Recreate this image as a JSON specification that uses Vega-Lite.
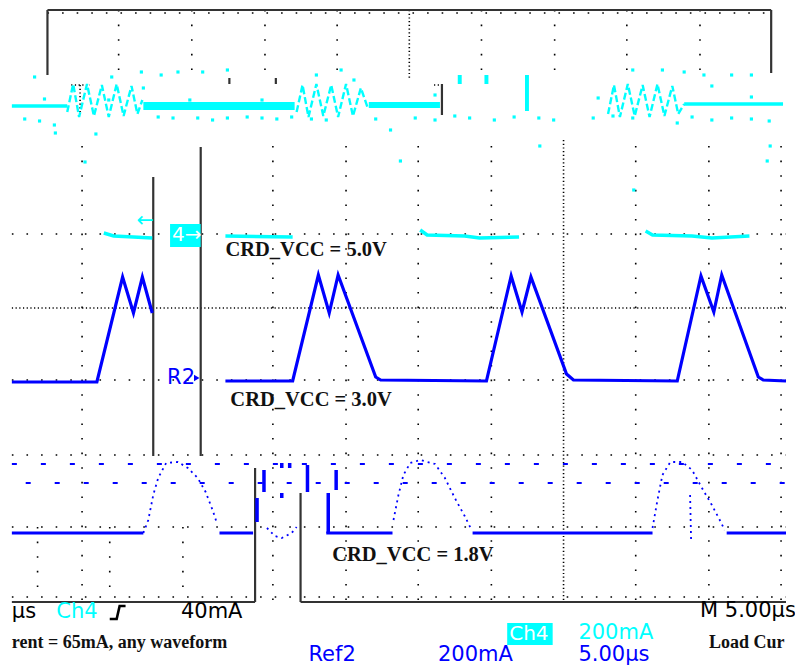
{
  "$schema": "https://vega.github.io/schema/vega-lite/v6.json",
  "width": 795,
  "height": 669,
  "padding": 0,
  "autosize": {"type": "fit", "contains": "padding"},
  "background": "#ffffff",
  "config": {"view": {"stroke": null}},
  "datasets": {
    "gridSparse": [
      {"x": 120, "y": 10, "x2": 120, "y2": 80}, {"x": 194, "y": 10, "x2": 194, "y2": 80},
      {"x": 268, "y": 10, "x2": 268, "y2": 80}, {"x": 341, "y": 10, "x2": 341, "y2": 80},
      {"x": 487, "y": 10, "x2": 487, "y2": 80}, {"x": 561, "y": 10, "x2": 561, "y2": 80},
      {"x": 634, "y": 10, "x2": 634, "y2": 80}, {"x": 708, "y": 10, "x2": 708, "y2": 80},
      {"x": 48, "y": 13, "x2": 780, "y2": 13},
      {"x": 83, "y": 146, "x2": 83, "y2": 600}, {"x": 276, "y": 146, "x2": 276, "y2": 600},
      {"x": 350, "y": 146, "x2": 350, "y2": 600}, {"x": 423, "y": 146, "x2": 423, "y2": 600},
      {"x": 497, "y": 146, "x2": 497, "y2": 600}, {"x": 643, "y": 146, "x2": 643, "y2": 600},
      {"x": 717, "y": 146, "x2": 717, "y2": 600}, {"x": 790, "y": 146, "x2": 790, "y2": 600},
      {"x": 38, "y": 527, "x2": 38, "y2": 600}, {"x": 111, "y": 527, "x2": 111, "y2": 600},
      {"x": 185, "y": 527, "x2": 185, "y2": 600},
      {"x": 12, "y": 234, "x2": 795, "y2": 234}, {"x": 12, "y": 380, "x2": 795, "y2": 380},
      {"x": 12, "y": 455, "x2": 795, "y2": 455}, {"x": 12, "y": 527, "x2": 795, "y2": 527},
      {"x": 12, "y": 597, "x2": 795, "y2": 597}
    ],
    "gridDense": [
      {"x": 570, "y": 140, "x2": 570, "y2": 600},
      {"x": 12, "y": 308, "x2": 795, "y2": 308},
      {"x": 414, "y": 10, "x2": 414, "y2": 80},
      {"x": 81, "y": 85, "x2": 81, "y2": 113},
      {"x": 72, "y": 85, "x2": 91, "y2": 85},
      {"x": 439, "y": 85, "x2": 447, "y2": 85}
    ],
    "frame": [
      {"x": 48, "y": 75, "x2": 48, "y2": 10}, {"x": 48, "y": 10, "x2": 780, "y2": 10},
      {"x": 780, "y": 10, "x2": 780, "y2": 73}, {"x": 447, "y": 84, "x2": 447, "y2": 115},
      {"x": 232, "y": 78, "x2": 232, "y2": 84}, {"x": 279, "y": 78, "x2": 279, "y2": 84},
      {"x": 155, "y": 177, "x2": 155, "y2": 456}, {"x": 203, "y": 147, "x2": 203, "y2": 456},
      {"x": 258, "y": 468, "x2": 258, "y2": 602}, {"x": 12, "y": 602, "x2": 258, "y2": 602},
      {"x": 304, "y": 493, "x2": 304, "y2": 602}, {"x": 304, "y": 602, "x2": 795, "y2": 602}
    ],
    "trigger": [
      {"i": 0, "x": 111, "y": 619}, {"i": 1, "x": 118, "y": 619},
      {"i": 2, "x": 121, "y": 606}, {"i": 3, "x": 127, "y": 606}
    ],
    "cyanRect": [
      {"x": 145, "x2": 298, "y": 102, "y2": 110},
      {"x": 373, "x2": 445, "y": 102, "y2": 108},
      {"x": 463, "x2": 467, "y": 75, "y2": 84},
      {"x": 490, "x2": 494, "y": 75, "y2": 84},
      {"x": 531, "x2": 535, "y": 75, "y2": 111}
    ],
    "cyanFlat": [
      {"s": "t1", "i": 0, "x": 12, "y": 106}, {"s": "t1", "i": 1, "x": 68, "y": 106},
      {"s": "t5", "i": 0, "x": 692, "y": 104}, {"s": "t5", "i": 1, "x": 792, "y": 104},
      {"s": "m1", "i": 0, "x": 105, "y": 233}, {"s": "m1", "i": 1, "x": 115, "y": 236},
      {"s": "m1", "i": 2, "x": 135, "y": 237}, {"s": "m1", "i": 3, "x": 154, "y": 238},
      {"s": "m2", "i": 0, "x": 228, "y": 236}, {"s": "m2", "i": 1, "x": 296, "y": 237},
      {"s": "m3", "i": 0, "x": 425, "y": 230}, {"s": "m3", "i": 1, "x": 432, "y": 235},
      {"s": "m3", "i": 2, "x": 470, "y": 236}, {"s": "m3", "i": 3, "x": 485, "y": 238},
      {"s": "m3", "i": 4, "x": 525, "y": 237},
      {"s": "m4", "i": 0, "x": 653, "y": 231}, {"s": "m4", "i": 1, "x": 660, "y": 235},
      {"s": "m4", "i": 2, "x": 700, "y": 236}, {"s": "m4", "i": 3, "x": 720, "y": 238},
      {"s": "m4", "i": 4, "x": 758, "y": 236}
    ],
    "cyanRing": [
      {"s": "t2", "i": 0, "x": 68, "y": 112}, {"s": "t2", "i": 1, "x": 74, "y": 84},
      {"s": "t2", "i": 2, "x": 80, "y": 117}, {"s": "t2", "i": 3, "x": 88, "y": 84},
      {"s": "t2", "i": 4, "x": 95, "y": 116}, {"s": "t2", "i": 5, "x": 103, "y": 85},
      {"s": "t2", "i": 6, "x": 110, "y": 117}, {"s": "t2", "i": 7, "x": 118, "y": 84},
      {"s": "t2", "i": 8, "x": 125, "y": 116}, {"s": "t2", "i": 9, "x": 133, "y": 86},
      {"s": "t2", "i": 10, "x": 139, "y": 114}, {"s": "t2", "i": 11, "x": 144, "y": 100},
      {"s": "t3", "i": 0, "x": 300, "y": 112}, {"s": "t3", "i": 1, "x": 306, "y": 85},
      {"s": "t3", "i": 2, "x": 312, "y": 117}, {"s": "t3", "i": 3, "x": 320, "y": 84},
      {"s": "t3", "i": 4, "x": 327, "y": 116}, {"s": "t3", "i": 5, "x": 335, "y": 85},
      {"s": "t3", "i": 6, "x": 342, "y": 117}, {"s": "t3", "i": 7, "x": 350, "y": 84},
      {"s": "t3", "i": 8, "x": 357, "y": 116}, {"s": "t3", "i": 9, "x": 365, "y": 88},
      {"s": "t3", "i": 10, "x": 372, "y": 108},
      {"s": "t4", "i": 0, "x": 615, "y": 114}, {"s": "t4", "i": 1, "x": 621, "y": 85},
      {"s": "t4", "i": 2, "x": 627, "y": 117}, {"s": "t4", "i": 3, "x": 635, "y": 84},
      {"s": "t4", "i": 4, "x": 642, "y": 116}, {"s": "t4", "i": 5, "x": 650, "y": 85},
      {"s": "t4", "i": 6, "x": 657, "y": 117}, {"s": "t4", "i": 7, "x": 665, "y": 84},
      {"s": "t4", "i": 8, "x": 672, "y": 116}, {"s": "t4", "i": 9, "x": 680, "y": 86},
      {"s": "t4", "i": 10, "x": 686, "y": 114}, {"s": "t4", "i": 11, "x": 692, "y": 104}
    ],
    "cyanDots": [
      {"x": 35, "y": 77}, {"x": 113, "y": 77}, {"x": 143, "y": 72}, {"x": 163, "y": 75},
      {"x": 180, "y": 72}, {"x": 205, "y": 72}, {"x": 230, "y": 70}, {"x": 45, "y": 99},
      {"x": 110, "y": 100}, {"x": 145, "y": 88}, {"x": 192, "y": 100}, {"x": 265, "y": 100},
      {"x": 25, "y": 119}, {"x": 40, "y": 121}, {"x": 55, "y": 125}, {"x": 160, "y": 117},
      {"x": 175, "y": 118}, {"x": 200, "y": 118}, {"x": 215, "y": 120}, {"x": 230, "y": 118},
      {"x": 250, "y": 117}, {"x": 265, "y": 118}, {"x": 280, "y": 119}, {"x": 295, "y": 117},
      {"x": 315, "y": 119}, {"x": 330, "y": 120}, {"x": 56, "y": 133}, {"x": 97, "y": 134},
      {"x": 380, "y": 119}, {"x": 395, "y": 130}, {"x": 420, "y": 118}, {"x": 440, "y": 120},
      {"x": 460, "y": 116}, {"x": 475, "y": 118}, {"x": 500, "y": 120}, {"x": 520, "y": 117},
      {"x": 545, "y": 118}, {"x": 560, "y": 120}, {"x": 605, "y": 98}, {"x": 600, "y": 118},
      {"x": 620, "y": 116}, {"x": 640, "y": 118}, {"x": 700, "y": 117}, {"x": 720, "y": 120},
      {"x": 740, "y": 118}, {"x": 760, "y": 119}, {"x": 778, "y": 121}, {"x": 685, "y": 123},
      {"x": 712, "y": 75}, {"x": 740, "y": 75}, {"x": 760, "y": 75}, {"x": 692, "y": 72},
      {"x": 760, "y": 97}, {"x": 720, "y": 86}, {"x": 670, "y": 70}, {"x": 640, "y": 70},
      {"x": 320, "y": 75}, {"x": 345, "y": 70}, {"x": 358, "y": 80}, {"x": 440, "y": 95},
      {"x": 86, "y": 162}, {"x": 546, "y": 146}, {"x": 779, "y": 146}, {"x": 776, "y": 161},
      {"x": 641, "y": 190}, {"x": 405, "y": 161}
    ],
    "blueSolid": [
      {"s": "a", "i": 0, "x": 12, "y": 382}, {"s": "a", "i": 1, "x": 98, "y": 382},
      {"s": "a", "i": 2, "x": 124, "y": 277}, {"s": "a", "i": 3, "x": 135, "y": 313},
      {"s": "a", "i": 4, "x": 144, "y": 277}, {"s": "a", "i": 5, "x": 154, "y": 313},
      {"s": "b", "i": 0, "x": 228, "y": 381}, {"s": "b", "i": 1, "x": 296, "y": 381},
      {"s": "b", "i": 2, "x": 322, "y": 275}, {"s": "b", "i": 3, "x": 333, "y": 313},
      {"s": "b", "i": 4, "x": 342, "y": 275}, {"s": "b", "i": 5, "x": 380, "y": 377},
      {"s": "b", "i": 6, "x": 385, "y": 380}, {"s": "b", "i": 7, "x": 492, "y": 381},
      {"s": "b", "i": 8, "x": 517, "y": 276}, {"s": "b", "i": 9, "x": 528, "y": 312},
      {"s": "b", "i": 10, "x": 537, "y": 277}, {"s": "b", "i": 11, "x": 573, "y": 374},
      {"s": "b", "i": 12, "x": 580, "y": 380}, {"s": "b", "i": 13, "x": 685, "y": 381},
      {"s": "b", "i": 14, "x": 709, "y": 276}, {"s": "b", "i": 15, "x": 722, "y": 312},
      {"s": "b", "i": 16, "x": 730, "y": 275}, {"s": "b", "i": 17, "x": 767, "y": 377},
      {"s": "b", "i": 18, "x": 772, "y": 380}, {"s": "b", "i": 19, "x": 795, "y": 381},
      {"s": "c", "i": 0, "x": 12, "y": 533}, {"s": "c", "i": 1, "x": 145, "y": 533},
      {"s": "d", "i": 0, "x": 222, "y": 533}, {"s": "d", "i": 1, "x": 256, "y": 533},
      {"s": "e", "i": 0, "x": 330, "y": 533}, {"s": "e", "i": 1, "x": 397, "y": 533},
      {"s": "f", "i": 0, "x": 478, "y": 533}, {"s": "f", "i": 1, "x": 660, "y": 533},
      {"s": "g", "i": 0, "x": 735, "y": 533}, {"s": "g", "i": 1, "x": 795, "y": 533}
    ],
    "blueDotted": [
      {"s": "p1", "i": 0, "x": 145, "y": 533}, {"s": "p1", "i": 1, "x": 150, "y": 520},
      {"s": "p1", "i": 2, "x": 155, "y": 495}, {"s": "p1", "i": 3, "x": 160, "y": 478},
      {"s": "p1", "i": 4, "x": 168, "y": 463}, {"s": "p1", "i": 5, "x": 180, "y": 462},
      {"s": "p1", "i": 6, "x": 190, "y": 468}, {"s": "p1", "i": 7, "x": 200, "y": 478},
      {"s": "p1", "i": 8, "x": 208, "y": 492}, {"s": "p1", "i": 9, "x": 215, "y": 510},
      {"s": "p1", "i": 10, "x": 219, "y": 522},
      {"s": "p2", "i": 0, "x": 270, "y": 528}, {"s": "p2", "i": 1, "x": 278, "y": 536},
      {"s": "p2", "i": 2, "x": 285, "y": 538}, {"s": "p2", "i": 3, "x": 295, "y": 533},
      {"s": "p2", "i": 4, "x": 300, "y": 527},
      {"s": "p3", "i": 0, "x": 398, "y": 520}, {"s": "p3", "i": 1, "x": 403, "y": 495},
      {"s": "p3", "i": 2, "x": 408, "y": 475}, {"s": "p3", "i": 3, "x": 415, "y": 463},
      {"s": "p3", "i": 4, "x": 425, "y": 460}, {"s": "p3", "i": 5, "x": 440, "y": 464},
      {"s": "p3", "i": 6, "x": 450, "y": 478}, {"s": "p3", "i": 7, "x": 460, "y": 498},
      {"s": "p3", "i": 8, "x": 470, "y": 516}, {"s": "p3", "i": 9, "x": 476, "y": 528},
      {"s": "p4", "i": 0, "x": 660, "y": 528}, {"s": "p4", "i": 1, "x": 665, "y": 500},
      {"s": "p4", "i": 2, "x": 670, "y": 475}, {"s": "p4", "i": 3, "x": 678, "y": 462},
      {"s": "p4", "i": 4, "x": 690, "y": 462}, {"s": "p4", "i": 5, "x": 700, "y": 470},
      {"s": "p4", "i": 6, "x": 710, "y": 488}, {"s": "p4", "i": 7, "x": 720, "y": 505},
      {"s": "p4", "i": 8, "x": 728, "y": 520}, {"s": "p4", "i": 9, "x": 733, "y": 530},
      {"s": "p5", "i": 0, "x": 698, "y": 495}, {"s": "p5", "i": 1, "x": 699, "y": 540}
    ],
    "blueBars": [
      {"x": 260, "y": 498, "x2": 260, "y2": 522}, {"x": 267, "y": 470, "x2": 267, "y2": 492},
      {"x": 285, "y": 463, "x2": 285, "y2": 468}, {"x": 285, "y": 493, "x2": 285, "y2": 498},
      {"x": 293, "y": 463, "x2": 293, "y2": 468}, {"x": 311, "y": 465, "x2": 311, "y2": 492},
      {"x": 340, "y": 470, "x2": 340, "y2": 490}, {"x": 332, "y": 493, "x2": 332, "y2": 533}
    ],
    "blueRows": [
      {"x": 12, "y": 464, "x2": 795, "y2": 464},
      {"x": 26, "y": 483, "x2": 795, "y2": 483}
    ],
    "boxes": [
      {"x": 172, "x2": 203, "y": 224, "y2": 247},
      {"x": 513, "x2": 559, "y": 623, "y2": 645}
    ],
    "txtBlack": [
      {"x": 12, "y": 612, "t": "µs"},
      {"x": 183, "y": 612, "t": "40mA"},
      {"x": 708, "y": 611, "t": "M 5.00µs"}
    ],
    "txtCyan": [
      {"x": 57, "y": 612, "t": "Ch4"},
      {"x": 585, "y": 633, "t": "200mA"},
      {"x": 138, "y": 221, "t": "←"}
    ],
    "txtBlue": [
      {"x": 312, "y": 655, "t": "Ref2"},
      {"x": 443, "y": 655, "t": "200mA"},
      {"x": 585, "y": 655, "t": "5.00µs"},
      {"x": 169, "y": 378, "t": "R2"}
    ],
    "txtWhite": [
      {"x": 174, "y": 235, "t": "4→"},
      {"x": 515, "y": 634, "t": "Ch4"}
    ],
    "txtLabel": [
      {"x": 228, "y": 250, "t": "CRD_VCC = 5.0V"},
      {"x": 233, "y": 400, "t": "CRD_VCC = 3.0V"},
      {"x": 336, "y": 555, "t": "CRD_VCC = 1.8V"}
    ],
    "txtNote": [
      {"x": 12, "y": 643, "t": "rent = 65mA, any waveform"},
      {"x": 717, "y": 643, "t": "Load Cur"}
    ],
    "marker": [{"x": 199, "y": 378}]
  },
  "layer": [
    {
      "data": {"name": "gridSparse"},
      "mark": {"type": "rule", "color": "#000000", "strokeWidth": 1.6, "strokeDash": [1.6, 13]},
      "encoding": {
        "x": {"field": "x", "type": "quantitative", "axis": null, "scale": {"domain": [0, 795], "nice": false, "zero": false}},
        "y": {"field": "y", "type": "quantitative", "axis": null, "scale": {"domain": [0, 669], "nice": false, "zero": false, "reverse": true}},
        "x2": {"field": "x2"}, "y2": {"field": "y2"}
      }
    },
    {
      "data": {"name": "gridDense"},
      "mark": {"type": "rule", "color": "#000000", "strokeWidth": 1.6, "strokeDash": [1.2, 2.5]},
      "encoding": {
        "x": {"field": "x", "type": "quantitative"}, "y": {"field": "y", "type": "quantitative"},
        "x2": {"field": "x2"}, "y2": {"field": "y2"}
      }
    },
    {
      "data": {"name": "frame"},
      "mark": {"type": "rule", "color": "#333333", "strokeWidth": 2.2},
      "encoding": {
        "x": {"field": "x", "type": "quantitative"}, "y": {"field": "y", "type": "quantitative"},
        "x2": {"field": "x2"}, "y2": {"field": "y2"}
      }
    },
    {
      "data": {"name": "trigger"},
      "mark": {"type": "line", "color": "#000000", "strokeWidth": 2.6},
      "encoding": {
        "x": {"field": "x", "type": "quantitative"}, "y": {"field": "y", "type": "quantitative"},
        "order": {"field": "i"}
      }
    },
    {
      "data": {"name": "cyanRect"},
      "mark": {"type": "rect", "color": "#00ffff"},
      "encoding": {
        "x": {"field": "x", "type": "quantitative"}, "x2": {"field": "x2"},
        "y": {"field": "y", "type": "quantitative"}, "y2": {"field": "y2"}
      }
    },
    {
      "data": {"name": "cyanFlat"},
      "mark": {"type": "line", "color": "#00ffff", "strokeWidth": 3.5},
      "encoding": {
        "x": {"field": "x", "type": "quantitative"}, "y": {"field": "y", "type": "quantitative"},
        "detail": {"field": "s"}, "order": {"field": "i"}
      }
    },
    {
      "data": {"name": "cyanRing"},
      "mark": {"type": "line", "color": "#00ffff", "strokeWidth": 2.4, "strokeDash": [7, 3]},
      "encoding": {
        "x": {"field": "x", "type": "quantitative"}, "y": {"field": "y", "type": "quantitative"},
        "detail": {"field": "s"}, "order": {"field": "i"}
      }
    },
    {
      "data": {"name": "cyanDots"},
      "mark": {"type": "square", "color": "#00ffff", "opacity": 1, "size": 10},
      "encoding": {
        "x": {"field": "x", "type": "quantitative"}, "y": {"field": "y", "type": "quantitative"}
      }
    },
    {
      "data": {"name": "blueRows"},
      "mark": {"type": "rule", "color": "#0000ff", "strokeWidth": 2, "strokeDash": [5, 24]},
      "encoding": {
        "x": {"field": "x", "type": "quantitative"}, "y": {"field": "y", "type": "quantitative"},
        "x2": {"field": "x2"}, "y2": {"field": "y2"}
      }
    },
    {
      "data": {"name": "blueBars"},
      "mark": {"type": "rule", "color": "#0000ff", "strokeWidth": 3.5},
      "encoding": {
        "x": {"field": "x", "type": "quantitative"}, "y": {"field": "y", "type": "quantitative"},
        "x2": {"field": "x2"}, "y2": {"field": "y2"}
      }
    },
    {
      "data": {"name": "blueDotted"},
      "mark": {"type": "line", "color": "#0000ff", "strokeWidth": 1.8, "strokeDash": [2, 4]},
      "encoding": {
        "x": {"field": "x", "type": "quantitative"}, "y": {"field": "y", "type": "quantitative"},
        "detail": {"field": "s"}, "order": {"field": "i"}
      }
    },
    {
      "data": {"name": "blueSolid"},
      "mark": {"type": "line", "color": "#0000ff", "strokeWidth": 3.2},
      "encoding": {
        "x": {"field": "x", "type": "quantitative"}, "y": {"field": "y", "type": "quantitative"},
        "detail": {"field": "s"}, "order": {"field": "i"}
      }
    },
    {
      "data": {"name": "boxes"},
      "mark": {"type": "rect", "color": "#00ffff"},
      "encoding": {
        "x": {"field": "x", "type": "quantitative"}, "x2": {"field": "x2"},
        "y": {"field": "y", "type": "quantitative"}, "y2": {"field": "y2"}
      }
    },
    {
      "data": {"name": "marker"},
      "mark": {"type": "point", "shape": "triangle-right", "filled": true, "color": "#0000ff", "size": 40, "opacity": 1},
      "encoding": {
        "x": {"field": "x", "type": "quantitative"}, "y": {"field": "y", "type": "quantitative"}
      }
    },
    {
      "data": {"name": "txtBlack"},
      "mark": {"type": "text", "align": "left", "baseline": "middle", "font": "DejaVu Sans", "fontSize": 21, "color": "#000000"},
      "encoding": {
        "x": {"field": "x", "type": "quantitative"}, "y": {"field": "y", "type": "quantitative"},
        "text": {"field": "t"}
      }
    },
    {
      "data": {"name": "txtCyan"},
      "mark": {"type": "text", "align": "left", "baseline": "middle", "font": "DejaVu Sans", "fontSize": 21, "color": "#00ffff"},
      "encoding": {
        "x": {"field": "x", "type": "quantitative"}, "y": {"field": "y", "type": "quantitative"},
        "text": {"field": "t"}
      }
    },
    {
      "data": {"name": "txtBlue"},
      "mark": {"type": "text", "align": "left", "baseline": "middle", "font": "DejaVu Sans", "fontSize": 21, "color": "#0000ff"},
      "encoding": {
        "x": {"field": "x", "type": "quantitative"}, "y": {"field": "y", "type": "quantitative"},
        "text": {"field": "t"}
      }
    },
    {
      "data": {"name": "txtWhite"},
      "mark": {"type": "text", "align": "left", "baseline": "middle", "font": "DejaVu Sans", "fontSize": 20, "color": "#ffffff"},
      "encoding": {
        "x": {"field": "x", "type": "quantitative"}, "y": {"field": "y", "type": "quantitative"},
        "text": {"field": "t"}
      }
    },
    {
      "data": {"name": "txtLabel"},
      "mark": {"type": "text", "align": "left", "baseline": "middle", "font": "Liberation Serif", "fontWeight": "bold", "fontSize": 20.5, "color": "#111111"},
      "encoding": {
        "x": {"field": "x", "type": "quantitative"}, "y": {"field": "y", "type": "quantitative"},
        "text": {"field": "t"}
      }
    },
    {
      "data": {"name": "txtNote"},
      "mark": {"type": "text", "align": "left", "baseline": "middle", "font": "Liberation Serif", "fontWeight": "bold", "fontSize": 18, "color": "#111111"},
      "encoding": {
        "x": {"field": "x", "type": "quantitative"}, "y": {"field": "y", "type": "quantitative"},
        "text": {"field": "t"}
      }
    }
  ]
}
